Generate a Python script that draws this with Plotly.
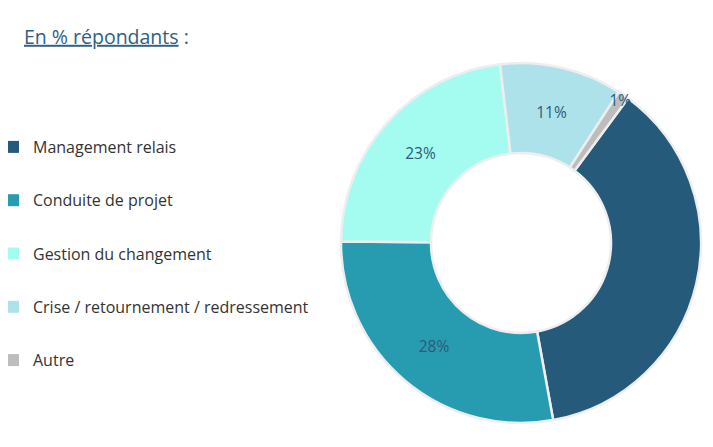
import plotly.graph_objects as go

categories = ["Management relais", "Conduite de projet", "Gestion du changement",
              "Crise / retournement / redressement", "Autre"]
values = [37, 28, 23, 11, 1]
pct_labels = ["37%", "28%", "23%", "11%", "1%"]
colors = ["#265a7a", "#279bb0", "#a4fcf1", "#ade2ea", "#bdbdbd"]
text_colors = ["#265a7a", "#2b5b7b", "#2b5b7b", "#2b5b7b", "#2b5b7b"]

fig = go.Figure()

fig.add_trace(go.Pie(
    labels=categories, values=values, text=pct_labels,
    textinfo="text", textposition="inside",
    insidetextorientation="horizontal",
    textfont=dict(family="Open Sans", size=15.5, color=text_colors),
    marker=dict(colors=colors, line=dict(color="#eeeeee", width=2.5)),
    hole=0.5, sort=False, direction="clockwise", rotation=36.5,
    domain=dict(x=[333 / 713, 693 / 713], y=[1 - 415 / 447, 1 - 55 / 447]),
    showlegend=False,
))

# legend entries (spaced like the original)
for i, (cat, col) in enumerate(zip(categories, colors)):
    fig.add_trace(go.Scatter(
        x=[None], y=[None], mode="markers", name=cat,
        marker=dict(symbol="square", size=8, color=col),
        legendgroup=f"g{i}",
    ))

fig.update_layout(
    width=713, height=447,
    margin=dict(l=0, r=0, t=0, b=0, autoexpand=False),
    paper_bgcolor="white", plot_bgcolor="white",
    xaxis=dict(visible=False), yaxis=dict(visible=False),
    uniformtext=dict(minsize=15, mode="show"),
    title=dict(
        text='<span style="text-decoration:underline">En % répondants</span> :',
        x=16 / 713, xanchor="left", y=1 - 29 / 447, yanchor="middle",
        font=dict(family="Open Sans", size=19.5, color="#2d6083"),
    ),
    legend=dict(
        x=-15 / 713, y=1 - 122 / 447, xanchor="left", yanchor="top",
        font=dict(family="Open Sans", size=16, color="#333333"),
        tracegroupgap=29.5, itemsizing="constant",
        bgcolor="rgba(0,0,0,0)",
    ),
)

fig.write_html("out.html")
